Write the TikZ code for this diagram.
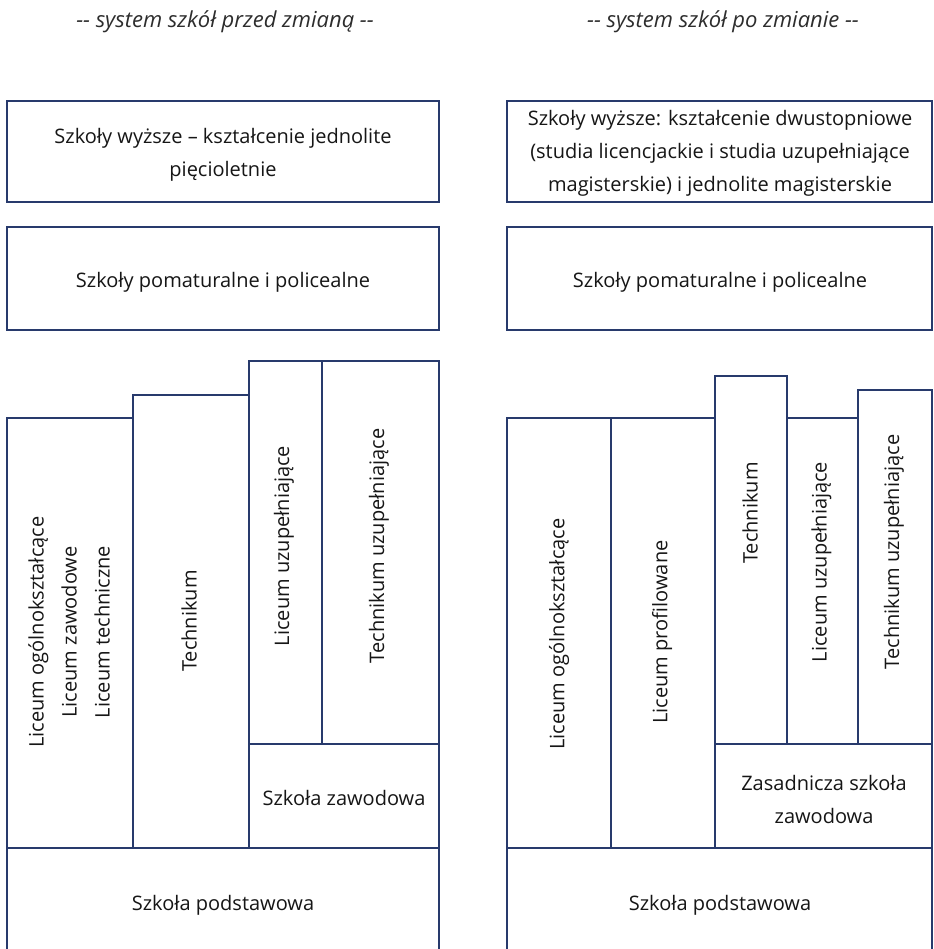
\documentclass[tikz,border=0pt]{standalone}
\usepackage{fontspec}
\setmainfont{Open Sans}
\definecolor{frame}{RGB}{40,58,108}
\definecolor{ink}{RGB}{22,22,22}
\definecolor{titleink}{RGB}{45,45,45}
% a cell spanning (x1,y1)-(x2,y2), y measured downwards
\newcommand\cell[5]{%
  \node[cell,minimum width={#4pt-#2pt},minimum height={#5pt-#3pt}] (#1)
    at ({(#2+#4)/2},{(#3+#5)/2}) {};}
\tikzset{
  cell/.style={draw=frame,line width=1.5pt,rectangle,inner sep=0pt,outer sep=0pt},
  txt/.style={text=ink,align=center,inner sep=0pt,
    font=\fontsize{20}{33}\selectfont},
  vtxt/.style={txt,rotate=90},
  heading/.style={text=titleink,inner sep=0pt,
    font=\fontsize{22}{26}\selectfont\itshape}
}
\begin{document}
\begin{tikzpicture}[x=1pt,y=-1pt]
\clip (0,0) rectangle (933,949);
\fill[white] (0,0) rectangle (933,949);

% headings
\node[heading] (hleft)  at (225,22) {-{}- system szkół przed zmianą -{}-};
\node[heading] (hright) at (723,22) {-{}- system szkół po zmianie -{}-};

% ---------- before the change ----------
\cell{lhigh}{7}{101}{439}{202}
\cell{lpost}{7}{227}{439}{330}
\cell{llic}{7}{418}{133}{848}
\cell{ltech}{133}{395}{249}{848}
\cell{llicu}{249}{361}{322}{744}
\cell{ltechu}{322}{361}{439}{744}
\cell{lzaw}{249}{744}{439}{848}
\cell{lpod}{7}{848}{439}{965}

\node[txt] (t-lhigh) at (223,155) {Szkoły wyższe – kształcenie jednolite\\pięcioletnie};
\node[txt] (t-lpost) at (223,282) {Szkoły pomaturalne i policealne};
\node[vtxt] (t-llic) at (69,632) {Liceum ogólnokształcące\\Liceum zawodowe\\Liceum techniczne};
\node[vtxt] (t-ltech) at (189,621) {Technikum};
\node[vtxt] (t-llicu) at (284,546) {Liceum uzupełniające};
\node[vtxt] (t-ltechu) at (379,546) {Technikum uzupełniające};
\node[txt] (t-lzaw) at (344,798) {Szkoła zawodowa};
\node[txt] (t-lpod) at (223,905) {Szkoła podstawowa};

% ---------- after the change ----------
\cell{rhigh}{507}{101}{932}{202}
\cell{rpost}{507}{227}{932}{330}
\cell{rlic}{507}{418}{611}{848}
\cell{rprof}{611}{418}{715}{848}
\cell{rtech}{715}{376}{787}{744}
\cell{rlicu}{787}{418}{858}{744}
\cell{rtechu}{858}{390}{932}{744}
\cell{rzaw}{715}{744}{932}{848}
\cell{rpod}{507}{848}{932}{965}

\node[txt] (t-rhigh) at (720,153) {Szkoły wyższe: kształcenie dwustopniowe\\(studia licencjackie i studia uzupełniające\\magisterskie) i jednolite magisterskie};
\node[txt] (t-rpost) at (720,282) {Szkoły pomaturalne i policealne};
\node[vtxt] (t-rlic) at (559,634) {Liceum ogólnokształcące};
\node[vtxt] (t-rprof) at (662,632) {Liceum profilowane};
\node[vtxt] (t-rtech) at (750,513) {Technikum};
\node[vtxt] (t-rlicu) at (821.5,562) {Liceum uzupełniające};
\node[vtxt] (t-rtechu) at (894,552) {Technikum uzupełniające};
\node[txt] (t-rzaw) at (824,799) {Zasadnicza szkoła\\zawodowa};
\node[txt] (t-rpod) at (720,905) {Szkoła podstawowa};
\end{tikzpicture}
\end{document}
